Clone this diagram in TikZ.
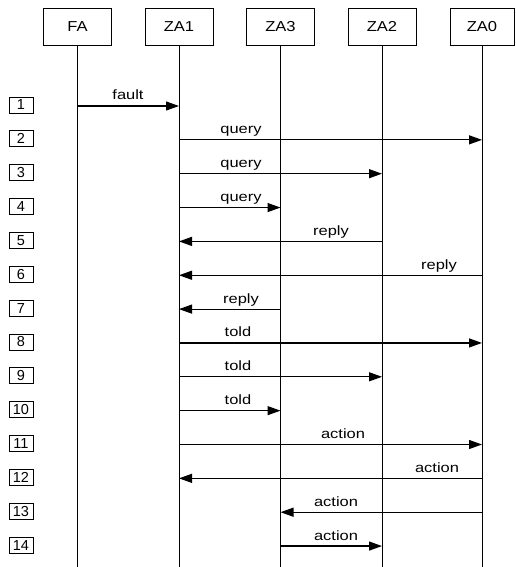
\documentclass[tikz,border=0pt]{standalone}
\usepackage{fontspec}
\setmainfont{Liberation Sans}
\usetikzlibrary{arrows.meta}
\newcommand{\wide}[2]{\scalebox{#1}[1]{#2}}
\begin{document}
\begin{tikzpicture}[x=1pt,y=-1pt,
 actor/.style={draw,line width=0.8pt,minimum width=68pt,minimum height=37pt,font=\fontsize{14.4}{16}\selectfont,inner sep=0},
 numbox/.style={draw,line width=0.8pt,minimum width=24pt,minimum height=16pt,inner sep=0,font=\fontsize{14.5}{15}\selectfont},
 life/.style={line width=0.8pt},
 msg/.style={line width=1.2pt,-{Triangle[length=13pt,width=9pt]}},
 lbl/.style={anchor=base,font=\fontsize{13.5}{15}\selectfont,inner sep=0}]
\useasboundingbox (0,0) rectangle (515,567);
\node[actor] (FA) at (77.5,26.5) {\wide{1.15}{FA}};
\node[actor] (ZA1) at (179,26.5) {\wide{1.15}{ZA1}};
\node[actor] (ZA3) at (280.5,26.5) {\wide{1.15}{ZA3}};
\node[actor] (ZA2) at (382,26.5) {\wide{1.15}{ZA2}};
\node[actor,minimum width=64pt] (ZA0) at (482,26.5) {\wide{1.15}{ZA0}};
\coordinate (bot) at (0,567);
\foreach \a in {FA,ZA1,ZA3,ZA2,ZA0}{\draw[life] (\a.south) -- (\a |- bot);}
\foreach \k in {1,...,14}{
  \node[numbox] (s\k) at (21,{105+(\k-1)*33.85}) {\k};
  \coordinate (r\k) at (0,{106+(\k-1)*33.85});
}
\newcommand{\msgline}[5]{%
  \draw[msg] (#2 |- r#1) -- (#3 |- r#1);
  \node[lbl] (l#1) at ([yshift=6pt]#4 |- r#1) {\wide{1.22}{#5}};}
\coordinate (x1) at (128,0);
\coordinate (x2) at (241,0);
\coordinate (x5) at (331,0);
\coordinate (x6) at (439,0);
\coordinate (x8) at (238,0);
\coordinate (x11) at (343,0);
\coordinate (x12) at (437,0);
\coordinate (x13) at (336,0);
\msgline{1}{FA}{ZA1}{x1}{fault}
\msgline{2}{ZA1}{ZA0}{x2}{query}
\msgline{3}{ZA1}{ZA2}{x2}{query}
\msgline{4}{ZA1}{ZA3}{x2}{query}
\msgline{5}{ZA2}{ZA1}{x5}{reply}
\msgline{6}{ZA0}{ZA1}{x6}{reply}
\msgline{7}{ZA3}{ZA1}{x2}{reply}
\msgline{8}{ZA1}{ZA0}{x8}{told}
\msgline{9}{ZA1}{ZA2}{x8}{told}
\msgline{10}{ZA1}{ZA3}{x8}{told}
\msgline{11}{ZA1}{ZA0}{x11}{action}
\msgline{12}{ZA0}{ZA1}{x12}{action}
\msgline{13}{ZA0}{ZA3}{x13}{action}
\msgline{14}{ZA3}{ZA2}{x13}{action}
\end{tikzpicture}
\end{document}
